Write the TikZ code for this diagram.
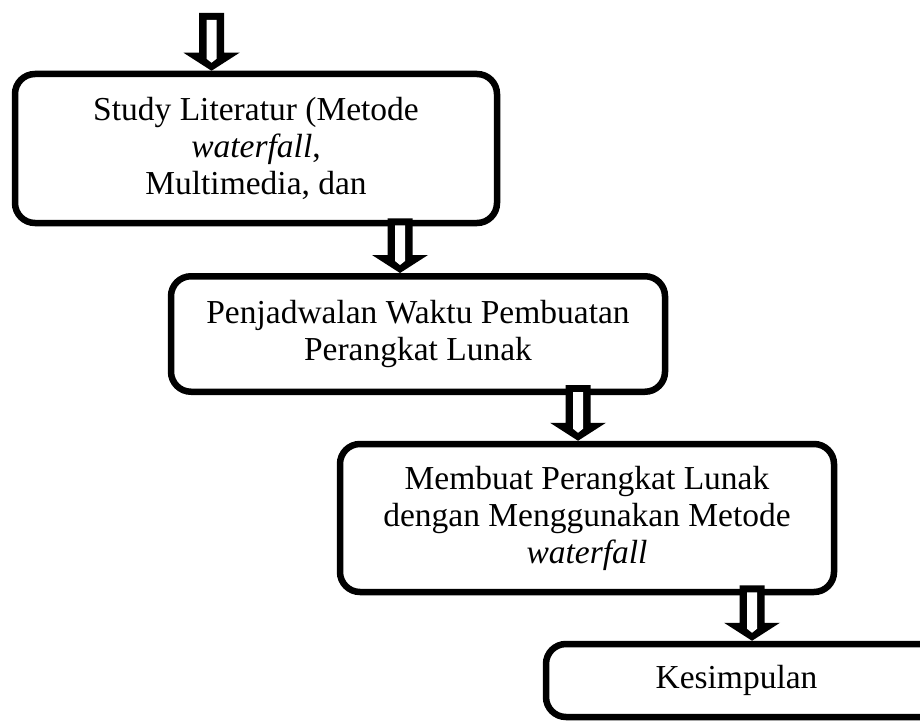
\documentclass[tikz,border=0pt]{standalone}
\usepackage{fontspec}
\setmainfont{Liberation Serif}
\usetikzlibrary{calc}

\tikzset{
    flowbox/.style={draw, fill=white, line width=6.5pt, rounded corners=20pt,
        align=center, inner sep=0pt, font=\fontsize{33.5}{37}\selectfont},
}

% hollow down arrow from upper end (#1) to tip (#2)
\newcommand\blockarrow[2]{%
    \fill let \p1=(#1), \p2=(#2) in
        (\x2-12.5pt,\y1) -- (\x2+12.5pt,\y1) -- (\x2+12.5pt,\y2+18pt) -- (\x2+28pt,\y2+18pt)
        -- (\x2,\y2) -- (\x2-28pt,\y2+18pt) -- (\x2-12.5pt,\y2+18pt) -- cycle;
    \fill[white] let \p1=(#1), \p2=(#2) in
        (\x2-5pt,\y1-7pt) -- (\x2+5pt,\y1-7pt) -- (\x2+5pt,\y2+12pt)
        -- (\x2,\y2+8pt) -- (\x2-5pt,\y2+12pt) -- cycle;
}

\begin{document}
\begin{tikzpicture}[x=1pt, y=-1pt]
    \clip (0,0) rectangle (920,722);
    \coordinate (start) at (211.5,13);
    \node[flowbox, minimum width=482pt, minimum height=149pt] (study) at (256,148.5)
        {Study Literatur (Metode\\ \textit{waterfall},\\ Multimedia, dan};
    \node[flowbox, minimum width=494pt, minimum height=115.5pt] (jadwal) at (418,334)
        {Penjadwalan Waktu Pembuatan\\ Perangkat Lunak};
    \node[flowbox, minimum width=494pt, minimum height=148pt] (buat) at (587,518)
        {Membuat Perangkat Lunak\\ dengan Menggunakan Metode\\ \textit{waterfall}};
    % box runs off the right edge
    \node[flowbox, minimum width=441pt, minimum height=73pt] (simpulan) at (766.5,680.5)
        {\hspace*{-60pt}Kesimpulan};
    \blockarrow{start}{[xshift=-44.5pt]study.north}
    \blockarrow{[yshift=8pt]study.south}{[xshift=-18pt]jadwal.north}
    \blockarrow{[yshift=10pt]jadwal.south}{[xshift=-9pt]buat.north}
    \blockarrow{[yshift=10pt]buat.south}{[xshift=-14.5pt]simpulan.north}
\end{tikzpicture}
\end{document}
